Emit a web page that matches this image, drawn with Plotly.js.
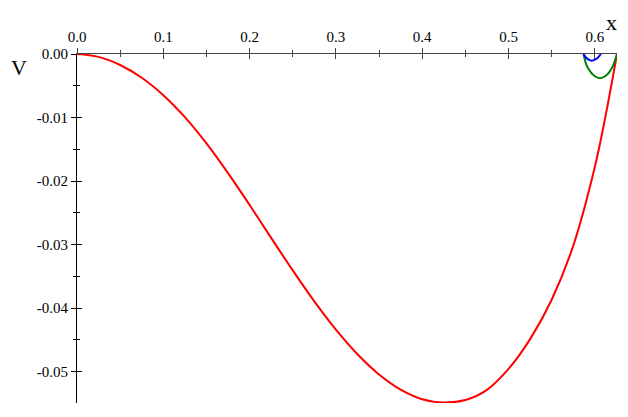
<!DOCTYPE html>
<html>
<head>
<meta charset="utf-8">
<script src="https://cdn.plot.ly/plotly-3.0.1.min.js"></script>
<style>html,body{margin:0;padding:0;background:#fff;}#chart{width:628px;height:417px;}</style>
</head>
<body>
<div id="chart"></div>
<script>
// Red curve
const redX = [0, 0.025, 0.05, 0.075, 0.10, 0.125, 0.15, 0.175, 0.20, 0.225, 0.25, 0.275, 0.30, 0.325, 0.35, 0.375, 0.40, 0.425, 0.45, 0.475, 0.50, 0.525, 0.55, 0.575, 0.60, 0.6125, 0.6257];
const redV = [0, -0.00045, -0.00173, -0.00374, -0.00648, -0.00994, -0.01408, -0.01876, -0.02378, -0.02896, -0.03408, -0.03896, -0.04341, -0.04728, -0.05046, -0.05285, -0.05436, -0.05488, -0.0545, -0.0529, -0.0496, -0.0449, -0.0387, -0.0302, -0.0178, -0.0097, 0];
// Blue curve
const blueX = [0.587, 0.590, 0.593, 0.5965, 0.600, 0.604, 0.607];
const blueV = [0, -0.0006, -0.0009, -0.00105, -0.0009, -0.0005, 0];
// Green curve
const greenX = [0.587, 0.5905, 0.595, 0.600, 0.606, 0.612, 0.617, 0.6215, 0.6257];
const greenV = [0, -0.0018, -0.0028, -0.0035, -0.0038, -0.0035, -0.0028, -0.0017, 0];

const xTickVals = [0, 0.1, 0.2, 0.3, 0.4, 0.5, 0.6];
const xTickText = ["0.0", "0.1", "0.2", "0.3", "0.4", "0.5", "0.6"];
const xMinorVals = [0.05, 0.15, 0.25, 0.35, 0.45, 0.55];
const yTickVals = [0, -0.01, -0.02, -0.03, -0.04, -0.05];
const yTickText = ["0.00", "-0.01", "-0.02", "-0.03", "-0.04", "-0.05"];
const yMinorVals = [-0.005, -0.015, -0.025, -0.035, -0.045];

const xRange = [0, 0.6257];
const yRange = [-0.05496, 0];

const font = {family: "Liberation Serif, Times New Roman, serif", size: 15, color: "#000"};

const traces = [
  {x: redX, y: redV, type: "scatter", mode: "lines", line: {color: "#ff0000", width: 2, shape: "spline", smoothing: 1}, xaxis: "x", yaxis: "y"},
  {x: greenX, y: greenV, type: "scatter", mode: "lines", line: {color: "#008000", width: 2, shape: "spline"}, xaxis: "x", yaxis: "y"},
  {x: blueX, y: blueV, type: "scatter", mode: "lines", line: {color: "#0000ff", width: 2, shape: "spline"}, xaxis: "x", yaxis: "y"},
  {x: [], y: [], type: "scatter", mode: "lines", xaxis: "x2", yaxis: "y2", showlegend: false}
];

const layout = {
  width: 628, height: 417,
  margin: {l: 77, r: 11, t: 54, b: 14, pad: 0},
  paper_bgcolor: "#fff", plot_bgcolor: "#fff",
  showlegend: false,
  font: font,
  xaxis: {
    range: xRange, side: "top", showgrid: false, zeroline: false,
    showline: true, linecolor: "#444", linewidth: 1,
    tickmode: "array", tickvals: xTickVals, ticktext: xTickText,
    ticks: "outside", ticklen: 5, tickwidth: 1, tickcolor: "#444",
    minor: {tickmode: "array", tickvals: xMinorVals, ticks: "outside", ticklen: 3, tickwidth: 1, tickcolor: "#444"},
    tickfont: font, fixedrange: true
  },
  xaxis2: {
    range: xRange, side: "top", overlaying: "x", showgrid: false, zeroline: false,
    showline: false, showticklabels: false,
    tickmode: "array", tickvals: xTickVals,
    ticks: "inside", ticklen: 5, tickwidth: 1, tickcolor: "#444",
    minor: {tickmode: "array", tickvals: xMinorVals, ticks: "inside", ticklen: 3, tickwidth: 1, tickcolor: "#444"}
  },
  yaxis: {
    range: yRange, side: "left", showgrid: false, zeroline: false,
    showline: true, linecolor: "#000", linewidth: 1,
    tickmode: "array", tickvals: yTickVals, ticktext: yTickText,
    ticks: "outside", ticklen: 5, tickwidth: 1, tickcolor: "#000",
    minor: {tickmode: "array", tickvals: yMinorVals, ticks: "outside", ticklen: 3, tickwidth: 1, tickcolor: "#000"},
    tickfont: font, fixedrange: true
  },
  yaxis2: {
    range: yRange, side: "left", overlaying: "y", showgrid: false, zeroline: false,
    showline: false, showticklabels: false,
    tickmode: "array", tickvals: yTickVals,
    ticks: "inside", ticklen: 5, tickwidth: 1, tickcolor: "#000",
    minor: {tickmode: "array", tickvals: yMinorVals, ticks: "inside", ticklen: 3, tickwidth: 1, tickcolor: "#000"}
  },
  annotations: [
    {text: "V", xref: "paper", yref: "paper", x: -0.107, y: 0.96, xanchor: "center", yanchor: "middle", showarrow: false,
     font: {family: "Liberation Serif, serif", size: 22, color: "#000"}},
    {text: "x", xref: "paper", yref: "paper", x: 0.989, y: 1.09, xanchor: "center", yanchor: "middle", showarrow: false,
     font: {family: "Liberation Serif, serif", size: 22, color: "#000"}}
  ]
};

Plotly.newPlot("chart", traces, layout, {displayModeBar: false, staticPlot: true});
</script>
</body>
</html>
